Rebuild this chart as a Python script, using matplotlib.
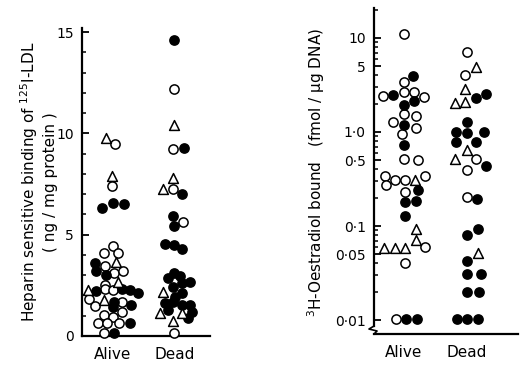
import matplotlib.pyplot as plt
from matplotlib.ticker import FixedLocator, NullFormatter

plt.rcParams.update({
    "font.family": "DejaVu Sans",
    "font.size": 10,
    "mathtext.default": "regular",
})

groups = ["Alive", "Dead"]

# kinds: o = open circle, f = filled circle, t = open triangle
# --- 125I-LDL binding (ng/mg protein) ---
ldl_alive_val = [9.78, 9.47, 7.9, 7.4, 6.3, 6.55, 6.5, 4.44, 4.08, 4.08,
                 3.59, 3.65, 3.45, 3.22, 3.12, 3.22, 3.02, 2.68, 2.5, 2.27,
                 2.24, 2.30, 2.27, 2.30, 2.27, 2.12, 1.84, 1.78, 1.69, 1.69,
                 1.53, 1.48, 1.45, 1.04, 0.95, 0.63, 0.66, 0.63, 0.63, 0.16,
                 0.16, 1.2]
ldl_alive_kind = ["t", "o", "t", "o", "f", "f", "f", "o", "o", "o",
                  "f", "t", "o", "f", "o", "o", "f", "t", "o", "t",
                  "f", "o", "o", "f", "f", "f", "o", "t", "f", "o",
                  "f", "o", "f", "o", "o", "o", "o", "o", "f", "o",
                  "f", "o"]
ldl_alive_dx = [-0.12, 0.04, -0.01, -0.01, -0.17, 0.0, 0.18, 0.0, -0.14, 0.08,
                -0.29, 0.05, -0.13, -0.27, 0.02, 0.17, -0.12, 0.08, -0.13, -0.40,
                -0.28, -0.13, 0.0, 0.14, 0.28, 0.40, -0.39, -0.14, 0.02, 0.14,
                0.29, -0.29, 0.0, -0.14, 0.0, -0.24, -0.09, 0.10, 0.28, -0.14,
                0.02, 0.15]

ldl_dead_val = [14.64, 12.22, 10.44, 9.23, 9.26, 7.82, 7.25, 7.24, 7.0, 5.92,
                5.64, 5.43, 4.55, 4.47, 4.28, 3.09, 2.85, 2.95, 2.68, 2.60,
                2.19, 2.43, 2.10, 1.94, 1.61, 1.69, 1.55, 1.53, 1.15, 1.28,
                1.15, 1.20, 0.90, 0.75, 0.13]
ldl_dead_kind = ["f", "o", "t", "o", "f", "t", "t", "o", "f", "f",
                 "o", "f", "f", "f", "f", "f", "f", "f", "f", "f",
                 "t", "f", "f", "f", "f", "f", "f", "f", "t", "f",
                 "t", "f", "f", "t", "o"]
ldl_dead_dx = [0.0, 0.0, 0.0, -0.02, 0.16, -0.02, -0.18, -0.02, 0.13, -0.02,
               0.14, 0.0, -0.15, 0.0, 0.13, 0.0, -0.11, 0.09, 0.25, 0.12,
               -0.18, -0.02, 0.12, 0.01, -0.15, -0.02, 0.12, 0.25, -0.24, -0.10,
               0.12, 0.28, 0.22, -0.02, 0.0]

# --- 3H-oestradiol bound (fmol/ug DNA) ---
oes_alive_val = [10.9, 3.95, 3.43, 2.42, 2.48, 2.69, 2.69, 2.38, 2.15, 1.94,
                 1.54, 1.49, 1.29, 1.19, 1.09, 0.95, 0.73, 0.52, 0.50, 0.34,
                 0.31, 0.31, 0.31, 0.34, 0.27, 0.23, 0.24, 0.18, 0.186, 0.129,
                 0.092, 0.071, 0.059, 0.059, 0.059, 0.060, 0.040, 0.0102, 0.0102, 0.0102]
oes_alive_kind = ["o", "f", "o", "o", "f", "o", "o", "o", "f", "f",
                  "o", "o", "o", "f", "o", "o", "f", "o", "o", "o",
                  "o", "o", "t", "o", "o", "o", "f", "f", "f", "f",
                  "t", "t", "t", "t", "t", "o", "o", "o", "f", "f"]
oes_alive_dx = [0.0, 0.15, 0.0, -0.33, -0.17, 0.0, 0.16, 0.32, 0.16, 0.0,
                0.0, 0.19, -0.17, 0.0, 0.19, -0.03, 0.0, 0.0, 0.22, -0.30,
                -0.15, 0.02, 0.17, 0.33, -0.29, 0.02, 0.23, 0.02, 0.19, 0.02,
                0.19, 0.19, -0.31, -0.14, 0.02, 0.34, 0.02, -0.13, 0.04, 0.21]

oes_dead_val = [7.05, 4.96, 4.03, 2.86, 2.02, 2.07, 2.32, 2.52, 1.29, 0.99,
                0.97, 1.0, 0.78, 0.78, 0.64, 0.52, 0.52, 0.43, 0.39, 0.205,
                0.194, 0.094, 0.080, 0.051, 0.042, 0.031, 0.031, 0.020, 0.020, 0.0102,
                0.0102, 0.0102]
oes_dead_kind = ["o", "t", "o", "t", "t", "t", "f", "f", "f", "f",
                 "f", "f", "f", "f", "t", "t", "o", "f", "o", "o",
                 "f", "f", "f", "t", "f", "f", "f", "f", "f", "f",
                 "f", "f"]
oes_dead_dx = [0.0, 0.14, -0.03, -0.03, -0.19, -0.03, 0.14, 0.31, 0.0, -0.17,
               0.0, 0.27, -0.17, 0.15, 0.0, -0.19, 0.14, 0.30, 0.0, 0.0,
               0.16, 0.18, 0.0, 0.18, 0.0, 0.0, 0.23, 0.0, 0.20, -0.16,
               0.0, 0.18]

oes_ticks = [0.01, 0.05, 0.1, 0.5, 1, 5, 10]
oes_ticklabels = ["0·01", "0·05", "0·1", "0·5", "1·0", "5", "10"]

styles = {
    "o": dict(marker="o", s=44, facecolor="white", edgecolor="black", linewidth=1.1),
    "f": dict(marker="o", s=44, facecolor="black", edgecolor="black", linewidth=1.1),
    "t": dict(marker="^", s=50, facecolor="white", edgecolor="black", linewidth=1.1),
}


def draw_group(ax, pos, vals, kinds, dx):
    for k in ["o", "f", "t"]:
        xs = [pos + d for d, kk in zip(dx, kinds) if kk == k]
        ys = [v for v, kk in zip(vals, kinds) if kk == k]
        ax.scatter(xs, ys, zorder=3, clip_on=False, **styles[k])


def style_axes(ax):
    for side in ["top", "right"]:
        ax.spines[side].set_visible(False)
    for side in ["left", "bottom"]:
        ax.spines[side].set_linewidth(1.6)
    ax.tick_params(axis="y", which="major", direction="in", length=5, width=1.3, pad=6)
    ax.tick_params(axis="y", which="minor", direction="in", length=3, width=1.1)
    ax.tick_params(axis="x", length=0, pad=8, labelsize=11)
    ax.set_xticks([0, 1])
    ax.set_xticklabels(groups)


fig = plt.figure(figsize=(5.22, 3.66), dpi=100)

# left panel
ax1 = fig.add_axes([0.157, 0.082, 0.245, 0.841])
draw_group(ax1, 0, ldl_alive_val, ldl_alive_kind, ldl_alive_dx)
draw_group(ax1, 1, ldl_dead_val, ldl_dead_kind, ldl_dead_dx)
ax1.set_xlim(-0.504, 1.577)
ax1.set_ylim(0, 15.2)
ax1.set_yticks([0, 5, 10, 15])
ax1.yaxis.set_minor_locator(FixedLocator([i for i in range(1, 15) if i % 5]))
style_axes(ax1)
fig.text(0.056, 0.503, "Heparin sensitive binding of $^{125}$I-LDL",
         rotation=90, ha="center", va="center", fontsize=11)
fig.text(0.096, 0.503, "( ng / mg protein )",
         rotation=90, ha="center", va="center", fontsize=11)

# right panel
ax2 = fig.add_axes([0.7165, 0.0874, 0.2755, 0.8906])
draw_group(ax2, 0, oes_alive_val, oes_alive_kind, oes_alive_dx)
draw_group(ax2, 1, oes_dead_val, oes_dead_kind, oes_dead_dx)
ax2.set_yscale("log")
ax2.set_xlim(-0.476, 1.81)
ax2.set_ylim(0.0071, 20.8)
ax2.yaxis.set_major_locator(FixedLocator(oes_ticks))
ax2.set_yticklabels(oes_ticklabels)
minors = [m * 10.0 ** e for e in range(-2, 2) for m in range(2, 10) if m != 5]
ax2.yaxis.set_minor_locator(FixedLocator([v for v in minors if v < 20.8]))
ax2.yaxis.set_minor_formatter(NullFormatter())
style_axes(ax2)
ax2.spines["left"].set_bounds(0.0086, 20.8)
# axis break mark
ax2.plot([0.0, -0.035, 0.021, 0.0], [0.0245, 0.0153, 0.0092, 0.0],
         transform=ax2.transAxes, color="black", linewidth=1.2, clip_on=False)
fig.text(0.605, 0.53, "$^{3}$H-Oestradiol bound   (fmol / \u00b5g DNA)",
         rotation=90, ha="center", va="center", fontsize=11)

plt.savefig("out.png", dpi=100)
